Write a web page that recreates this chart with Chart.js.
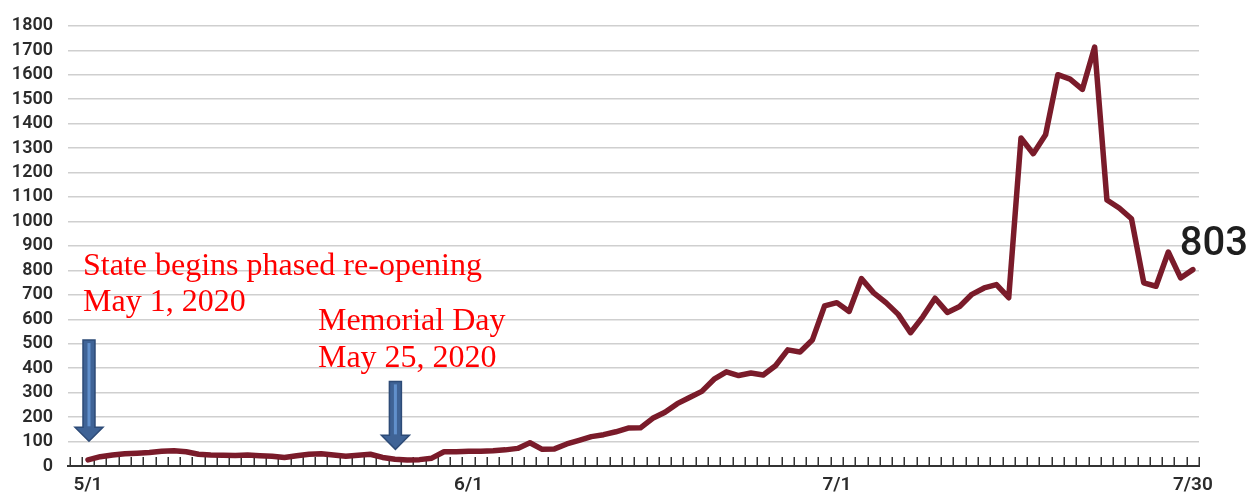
<!DOCTYPE html>
<html><head><meta charset="utf-8">
<script src="https://cdn.jsdelivr.net/npm/chart.js@4.4.1/dist/chart.umd.min.js"></script>
<style>html,body{margin:0;padding:0;background:#fff;} canvas{display:block;}</style>
</head><body>
<canvas id="c" width="1250" height="499"></canvas>
<script>
const dates = ['5/1','5/2','5/3','5/4','5/5','5/6','5/7','5/8','5/9','5/10','5/11','5/12','5/13','5/14','5/15','5/16','5/17','5/18','5/19','5/20','5/21','5/22','5/23','5/24','5/25','5/26','5/27','5/28','5/29','5/30','5/31',
'6/1','6/2','6/3','6/4','6/5','6/6','6/7','6/8','6/9','6/10','6/11','6/12','6/13','6/14','6/15','6/16','6/17','6/18','6/19','6/20','6/21','6/22','6/23','6/24','6/25','6/26','6/27','6/28','6/29','6/30',
'7/1','7/2','7/3','7/4','7/5','7/6','7/7','7/8','7/9','7/10','7/11','7/12','7/13','7/14','7/15','7/16','7/17','7/18','7/19','7/20','7/21','7/22','7/23','7/24','7/25','7/26','7/27','7/28','7/29','7/30'];
const cases = [25,38,45,50,52,55,60,62,58,48,45,44,43,45,42,40,35,42,48,50,45,40,44,48,35,28,25,26,32,58,58,
60,60,62,66,72,95,68,70,90,105,120,128,140,155,156,195,220,255,280,305,355,385,370,380,372,410,475,466,515,655,
668,632,766,708,668,620,545,610,686,628,652,702,728,742,688,1341,1277,1354,1600,1582,1540,1713,1088,1055,1011,749,735,875,769,803];
const tickDays = [0,31,61,90];
const tickLabels = ['5/1','6/1','7/1','7/30'];
const lastLabel = '803';
const notes = [
  {day:-0.41, value:782, lines:['State begins phased re-opening','May 1, 2020']},
  {day:18.73, value:555, lines:['Memorial Day','May 25, 2020']}
];
const arrows = [
  {day:0.08, from:515, to:101},
  {day:25.04, from:346, to:68}
];

const dayTicksPlugin = {
  id:'dayTicks',
  beforeDatasetsDraw(chart){
    const xs = chart.scales.x, ctx = chart.ctx, b = chart.chartArea.bottom;
    ctx.save();
    ctx.strokeStyle = '#333';
    ctx.lineWidth = 1.5;
    ctx.beginPath();
    for (let i = -1; i <= dates.length; i++) {
      const px = Math.round(xs.getPixelForValue(i - 0.5)) + 0.25;
      if (px < chart.chartArea.left - 1 || px > chart.chartArea.right + 1) continue;
      ctx.moveTo(px, b);
      ctx.lineTo(px, b - 9);
    }
    ctx.stroke();
    ctx.restore();
  }
};

const annotPlugin = {
  id:'annot',
  afterDatasetsDraw(chart){
    const xs = chart.scales.x, ys = chart.scales.y, ctx = chart.ctx;
    ctx.save();
    arrows.forEach(a => {
      const cx = xs.getPixelForValue(a.day);
      const yt = ys.getPixelForValue(a.from);
      const yp = ys.getPixelForValue(a.to);
      const sw = 6, hw = 14, hl = 14;
      ctx.beginPath();
      ctx.moveTo(cx - sw, yt);
      ctx.lineTo(cx + sw, yt);
      ctx.lineTo(cx + sw, yp - hl);
      ctx.lineTo(cx + hw, yp - hl);
      ctx.lineTo(cx, yp);
      ctx.lineTo(cx - hw, yp - hl);
      ctx.lineTo(cx - sw, yp - hl);
      ctx.closePath();
      ctx.fillStyle = '#3f6396';
      ctx.fill();
      ctx.strokeStyle = '#2d4b77';
      ctx.lineWidth = 1.5;
      ctx.stroke();
      ctx.beginPath();
      ctx.moveTo(cx, yt + 3);
      ctx.lineTo(cx, yp - hl - 1);
      ctx.strokeStyle = '#6190cc';
      ctx.lineWidth = 3;
      ctx.stroke();
    });
    ctx.fillStyle = '#ff0000';
    ctx.font = '32px "Liberation Serif", "Times New Roman", serif';
    ctx.textBaseline = 'alphabetic';
    ctx.textAlign = 'left';
    notes.forEach(n => {
      const x = xs.getPixelForValue(n.day);
      const y = ys.getPixelForValue(n.value);
      n.lines.forEach((t, i) => ctx.fillText(t, x, y + i * 36.5));
    });
    const li = cases.length - 1;
    const lx = xs.getPixelForValue(li), ly = ys.getPixelForValue(cases[li]);
    ctx.fillStyle = '#1e1e1e';
    ctx.font = '500 40px Roboto, sans-serif';
    ctx.fillText(lastLabel, lx - 13, ly - 15);
    ctx.restore();
  }
};

new Chart(document.getElementById('c'), {
  type:'line',
  data:{
    datasets:[{
      data: cases.map((v, i) => ({x:i, y:v})),
      borderColor:'#7a1b2a',
      borderWidth:5.5,
      pointRadius:0,
      tension:0,
      borderJoinStyle:'round',
      borderCapStyle:'round',
      fill:false
    }]
  },
  options:{
    responsive:false,
    animation:false,
    devicePixelRatio:1,
    layout:{padding:{top:15, right:51, left:0, bottom:0}},
    plugins:{legend:{display:false}, tooltip:{enabled:false}},
    scales:{
      x:{
        type:'linear',
        min:-1.63,
        max:90.5,
        afterFit(s){ s.height = 33; },
        afterBuildTicks(s){ s.ticks = tickDays.map(v => ({value:v})); },
        grid:{display:false, drawTicks:false},
        border:{display:true, color:'#333', width:2},
        ticks:{
          autoSkip:false, maxRotation:0, padding:8,
          color:'#2b2b2b',
          font:{family:'Roboto', size:19, weight:'600'},
          callback(v){ const k = tickDays.indexOf(v); return k >= 0 ? tickLabels[k] : ''; }
        }
      },
      y:{
        min:0, max:1800,
        afterFit(s){ s.width = 68; },
        grid:{
          drawTicks:false,
          lineWidth:1.5,
          color:(c) => c.tick && c.tick.value === 0 ? 'rgba(0,0,0,0)' : '#cfcfcf'
        },
        border:{display:false},
        ticks:{
          stepSize:100, autoSkip:false, padding:15,
          color:'#2b2b2b',
          font:{family:'Roboto', size:18, weight:'600'},
          callback(v){ return String(v); }
        }
      }
    }
  },
  plugins:[dayTicksPlugin, annotPlugin]
});
</script>
</body></html>
